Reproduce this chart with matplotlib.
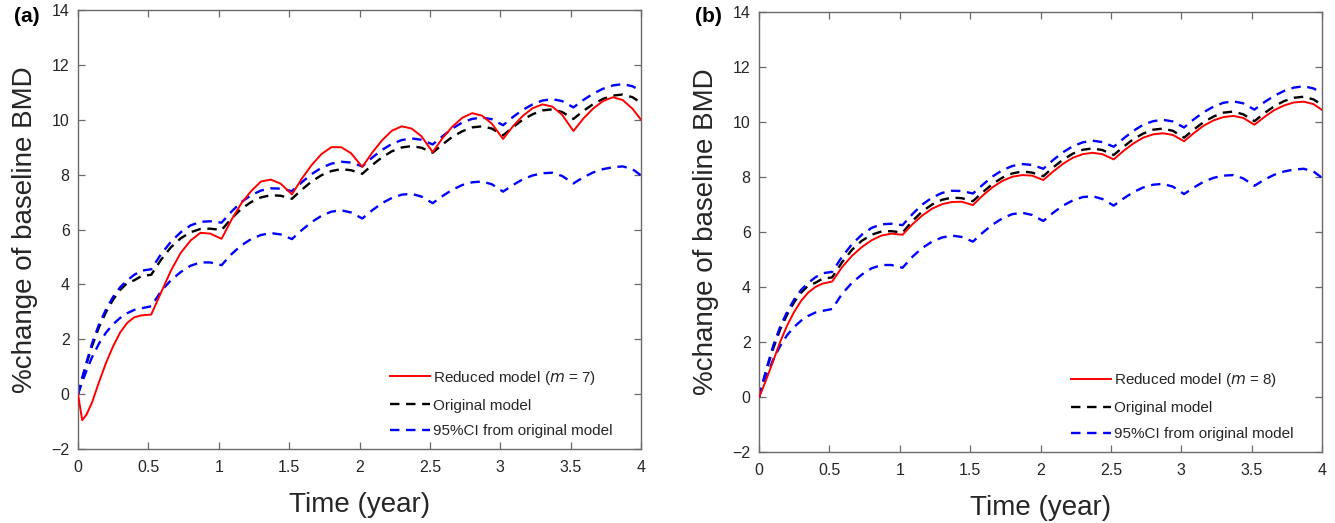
import matplotlib
matplotlib.use("Agg")
import matplotlib.pyplot as plt

plt.rcParams['font.family'] = ['Liberation Sans', 'DejaVu Sans']

# ---------------- data ----------------
T = [0, 0.03, 0.06, 0.1, 0.15, 0.2, 0.25, 0.3, 0.35, 0.4, 0.45, 0.52,
     0.59, 0.66, 0.73, 0.80, 0.87, 0.94, 1.02,
     1.09, 1.16, 1.23, 1.30, 1.37, 1.44, 1.52,
     1.59, 1.66, 1.73, 1.80, 1.87, 1.94, 2.02,
     2.09, 2.16, 2.23, 2.30, 2.37, 2.44, 2.52,
     2.59, 2.66, 2.73, 2.80, 2.87, 2.94, 3.02,
     3.09, 3.16, 3.23, 3.30, 3.37, 3.44, 3.52,
     3.59, 3.66, 3.73, 3.80, 3.87, 3.94, 4.0]

reduced_m7 = [0, -0.95, -0.75, -0.3, 0.45, 1.15, 1.75, 2.25, 2.6, 2.8, 2.87, 2.9,
              3.7, 4.5, 5.15, 5.6, 5.88, 5.85, 5.66,
              6.35, 6.95, 7.4, 7.75, 7.82, 7.67, 7.28,
              7.85, 8.35, 8.75, 9.0, 9.0, 8.78, 8.28,
              8.8, 9.25, 9.6, 9.76, 9.68, 9.4, 8.82,
              9.33, 9.75, 10.07, 10.24, 10.15, 9.86, 9.3,
              9.76, 10.14, 10.42, 10.56, 10.48, 10.18, 9.59,
              10.04, 10.41, 10.68, 10.82, 10.72, 10.4, 10.0]

reduced_m8 = [0, 0.35, 0.75, 1.3, 2.0, 2.6, 3.1, 3.5, 3.8, 4.0, 4.12, 4.2,
              4.72, 5.13, 5.45, 5.7, 5.87, 5.94, 5.9,
              6.28, 6.6, 6.85, 7.01, 7.09, 7.1, 6.98,
              7.33, 7.63, 7.86, 8.01, 8.07, 8.05, 7.89,
              8.2, 8.48, 8.7, 8.83, 8.88, 8.83, 8.64,
              8.95, 9.22, 9.43, 9.55, 9.59, 9.53, 9.3,
              9.6, 9.87, 10.06, 10.18, 10.22, 10.15, 9.9,
              10.18, 10.43, 10.6, 10.71, 10.74, 10.65, 10.44]

original = [0, 0.55, 1.1, 1.75, 2.45, 3.0, 3.45, 3.8, 4.05, 4.15, 4.3, 4.35,
            4.9, 5.35, 5.68, 5.9, 6.02, 6.03, 5.98,
            6.4, 6.75, 7.0, 7.17, 7.25, 7.23, 7.12,
            7.45, 7.75, 7.98, 8.13, 8.2, 8.16, 8.03,
            8.35, 8.63, 8.85, 8.99, 9.04, 8.98, 8.8,
            9.1, 9.38, 9.58, 9.72, 9.76, 9.68, 9.43,
            9.73, 10.0, 10.2, 10.34, 10.38, 10.28, 10.03,
            10.32, 10.57, 10.76, 10.88, 10.92, 10.82, 10.62]

ci_upper = [0, 0.6, 1.15, 1.85, 2.55, 3.1, 3.55, 3.9, 4.15, 4.35, 4.5, 4.55,
            5.1, 5.55, 5.9, 6.15, 6.28, 6.3, 6.25,
            6.65, 7.0, 7.25, 7.42, 7.5, 7.49, 7.4,
            7.72, 8.02, 8.25, 8.4, 8.47, 8.44, 8.3,
            8.62, 8.9, 9.12, 9.26, 9.32, 9.27, 9.1,
            9.4, 9.68, 9.9, 10.03, 10.08, 10.02, 9.8,
            10.1, 10.36, 10.56, 10.7, 10.75, 10.68, 10.45,
            10.72, 10.95, 11.13, 11.25, 11.3, 11.22, 11.05]

ci_lower = [0, 0.45, 0.85, 1.35, 1.85, 2.25, 2.55, 2.78, 2.95, 3.07, 3.13, 3.2,
            3.75, 4.15, 4.45, 4.68, 4.8, 4.8, 4.7,
            5.1, 5.42, 5.65, 5.8, 5.87, 5.82, 5.65,
            5.98, 6.27, 6.5, 6.65, 6.7, 6.62, 6.4,
            6.7, 6.96, 7.15, 7.27, 7.3, 7.2, 6.96,
            7.22, 7.45, 7.62, 7.72, 7.75, 7.65, 7.38,
            7.62, 7.83, 7.97, 8.05, 8.07, 7.95, 7.68,
            7.9, 8.08, 8.2, 8.27, 8.3, 8.2, 7.97]

x_ticks = [0, 0.5, 1, 1.5, 2, 2.5, 3, 3.5, 4]
x_tick_labels = ['0', '0.5', '1', '1.5', '2', '2.5', '3', '3.5', '4']
y_ticks = [-2, 0, 2, 4, 6, 8, 10, 12, 14]
y_tick_labels = ['\u22122', '0', '2', '4', '6', '8', '10', '12', '14']

panels = [
    ('(a)', reduced_m7, 'Reduced model ($m$ = 7)'),
    ('(b)', reduced_m8, 'Reduced model ($m$ = 8)'),
]

# ---------------- figure ----------------
W, H = 1335, 523
fig = plt.figure(figsize=(W / 100, H / 100), dpi=100)
fig.patch.set_facecolor('white')

axes_px = [(78, 10, 641, 449), (759, 12, 1322, 452)]
spine_c = '#6a6a6a'
text_c = '#262626'
dash = (0, (4, 2.8))

for (label, red_vals, red_label), (l, t, r, b) in zip(panels, axes_px):
    ax = fig.add_axes([l / W, 1 - b / H, (r - l) / W, (b - t) / H])
    ax.plot(T, red_vals, color='#ff0000', lw=1.4, label=red_label, zorder=3)
    ax.plot(T, original, color='black', lw=1.7, ls=dash,
            label='Original model', zorder=2)
    ax.plot(T, ci_upper, color='#0000ff', lw=1.7, ls=dash,
            label='95%CI from original model', zorder=2)
    ax.plot(T, ci_lower, color='#0000ff', lw=1.7, ls=dash, zorder=2)

    ax.set_xlim(0, 4)
    ax.set_ylim(-2, 14)
    ax.set_xticks(x_ticks)
    ax.set_xticklabels(x_tick_labels)
    ax.set_yticks(y_ticks)
    ax.set_yticklabels(y_tick_labels)
    ax.tick_params(direction='in', length=5, width=0.9, colors=spine_c,
                   labelcolor=text_c, labelsize=11.5, top=True, right=True)
    ax.tick_params(axis='x', pad=8)
    ax.tick_params(axis='y', pad=6)
    for s in ax.spines.values():
        s.set_color(spine_c)
        s.set_linewidth(1.0)

    ax.set_xlabel('Time (year)', fontsize=20, color=text_c, labelpad=12)
    ax.set_ylabel('%change of baseline BMD', fontsize=20, color=text_c,
                  labelpad=10)

    leg = ax.legend(loc='upper left', bbox_to_anchor=(0.555, 0.183),
                    frameon=False, fontsize=11, handlelength=2.6,
                    handletextpad=0.2, labelspacing=0.78, borderpad=0,
                    borderaxespad=0)
    for txt in leg.get_texts():
        txt.set_color(text_c)

    fig.text((l - 64) / W, 1 - 16 / H, label, fontsize=15, fontweight='bold',
             color='black', ha='left', va='center')

fig.savefig('out.png', dpi=100, facecolor='white')
